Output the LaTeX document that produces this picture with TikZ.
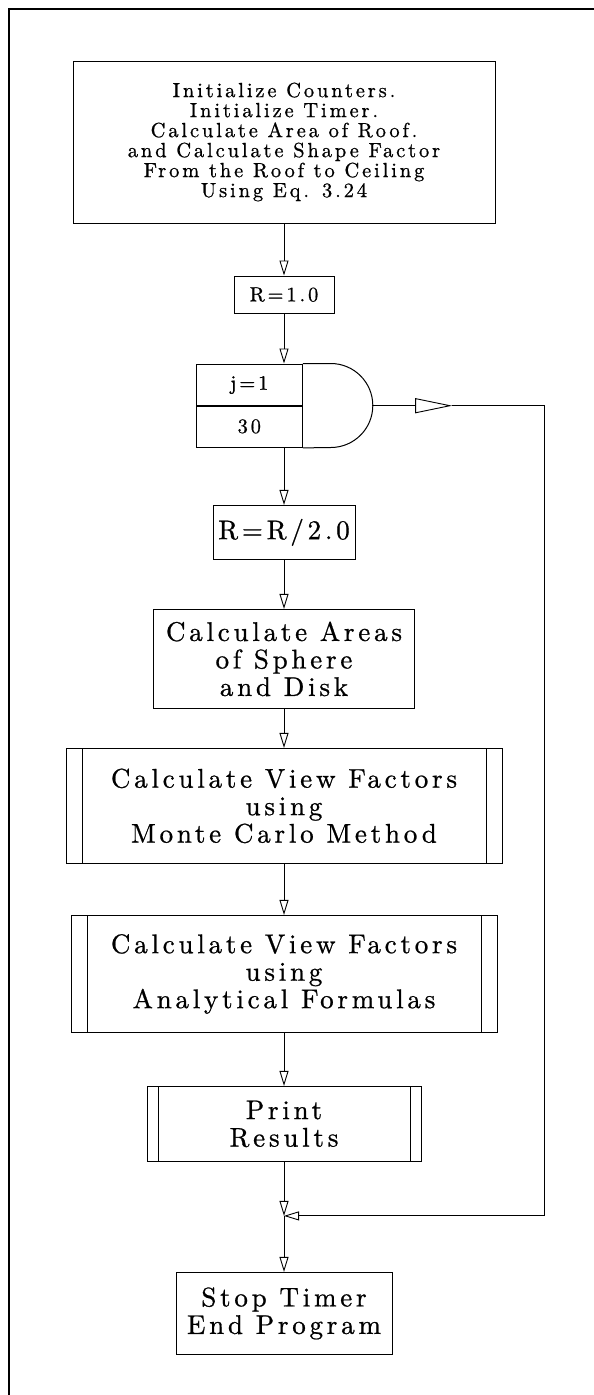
\documentclass[tikz,border=0pt]{standalone}
\usepackage{fontspec}
\usetikzlibrary{arrows.meta, positioning}

\newfontfamily\plotfont{lmroman10-regular.otf}[LetterSpace=14, FakeBold=0.8]
\newcommand\smalltype{\plotfont\fontsize{20.5}{20}\selectfont}
\newcommand\largetype{\plotfont\fontsize{27}{27.5}\selectfont}

\begin{document}
\begin{tikzpicture}[
  box/.style={rectangle, draw, line width=1pt, align=center, inner sep=0pt, font=\largetype},
  smallbox/.style={box, font=\smalltype},
  sub/.style={box, path picture={
      \draw[line width=1pt] ([xshift=#1]path picture bounding box.north west) -- ([xshift=#1]path picture bounding box.south west);
      \draw[line width=1pt] ([xshift=-#1]path picture bounding box.north east) -- ([xshift=-#1]path picture bounding box.south east);}},
  arrow/.style={-{Triangle[open, length=15pt, width=9pt]}, line width=0.9pt},
  bigarrow/.style={-{Triangle[open, length=37pt, width=15pt]}, line width=0.9pt},
  frame/.style={line width=2.5pt, line join=miter}
]
\useasboundingbox (0,0) rectangle (594pt,-1395pt);
\draw[frame] (594pt,-9pt) -- (9pt,-9pt) -- (9pt,-1395pt);

\node[smallbox, minimum width=422pt, minimum height=162pt] (init) at (284pt,-142pt)
  {Initialize Counters.\\Initialize Timer.\\Calculate Area of Roof.\\and Calculate Shape Factor\\From the Roof to Ceiling\\Using Eq. 3.24};
\node[smallbox, minimum width=100pt, minimum height=37pt, below=52pt of init] (rone) {R=1.0};

% loop header
\node[rectangle, minimum width=176pt, minimum height=84pt, inner sep=0pt, below=50pt of rone] (loop) {};
\node[smallbox, minimum width=106pt, minimum height=42pt, anchor=north west] (jcell) at (loop.north west) {j=1};
\node[smallbox, minimum width=106pt, minimum height=42pt, anchor=south west] (ncell) at (loop.south west) {30};
\draw[line width=1pt] (jcell.north east) -- ++(28pt,0) arc[start angle=90, end angle=-90, radius=42pt] -- (ncell.south east);

\node[box, minimum width=142pt, minimum height=54pt, below=57pt of loop] (halve) {R=R/2.0};
\node[box, minimum width=261pt, minimum height=99pt, below=49pt of halve] (areas) {Calculate Areas\\of Sphere\\and Disk};
\node[sub=16pt, minimum width=436pt, minimum height=115pt, below=39pt of areas] (monte) {Calculate View Factors\\using\\Monte Carlo Method};
\node[sub=16pt, minimum width=426pt, minimum height=117pt, below=51pt of monte] (anal) {Calculate View Factors\\using\\Analytical Formulas};
\node[sub=11pt, minimum width=274pt, minimum height=75pt, below=53pt of anal] (print) {Print\\Results};
\coordinate[below=54pt of print] (join);
\node[box, minimum width=216pt, minimum height=82pt, below=56pt of join] (stop) {Stop Timer\\End Program};

\coordinate[right=80pt of loop.east] (loopout);

\draw[arrow] (init) -- (rone);
\draw[arrow] (rone) -- (loop);
\draw[arrow] (loop) -- (halve);
\draw[arrow] (halve) -- (areas);
\draw[arrow] (areas) -- (monte);
\draw[arrow] (monte) -- (anal);
\draw[arrow] (anal) -- (print);
\draw[arrow] (print) -- (join);
\draw[arrow] (join) -- (stop);
\draw[bigarrow] (loop.east) -- (loopout);
\draw[arrow] (loopout) -- ++(92pt,0) |- (join);
\end{tikzpicture}
\end{document}
